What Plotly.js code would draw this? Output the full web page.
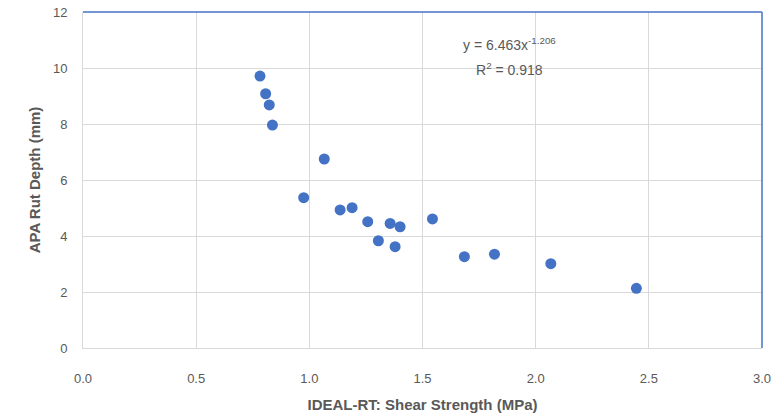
<!DOCTYPE html>
<html>
<head>
<meta charset="utf-8">
<script src="https://cdn.plot.ly/plotly-3.0.1.min.js"></script>
<style>html,body{margin:0;padding:0;background:#fff;}#chart{width:778px;height:414px;}</style>
</head>
<body>
<div id="chart"></div>
<script>
const shearStrength = [0.782, 0.807, 0.823, 0.837, 1.066, 0.975, 1.136, 1.189, 1.258, 1.357, 1.401, 1.305, 1.379, 1.544, 1.685, 1.818, 2.067, 2.445];
const rutDepth      = [9.71, 9.08, 8.68, 7.96, 6.75, 5.37, 4.93, 5.01, 4.51, 4.45, 4.33, 3.83, 3.62, 4.61, 3.26, 3.35, 3.01, 2.13];
const xTicks = [0, 0.5, 1, 1.5, 2, 2.5, 3];
const xTickLabels = ["0.0", "0.5", "1.0", "1.5", "2.0", "2.5", "3.0"];
const yTicks = [0, 2, 4, 6, 8, 10, 12];
const equationText = "y = 6.463x<sup>-1.206</sup>";
const r2Text = "R<sup>2</sup> = 0.918";

const font = {family: "Liberation Sans, Arial, sans-serif", color: "#595959"};
const trace = {
  x: shearStrength, y: rutDepth, type: "scatter", mode: "markers",
  marker: {color: "#4472C4", size: 11}, hoverinfo: "skip"
};
const layout = {
  width: 778, height: 414,
  margin: {l: 83, r: 16, t: 12, b: 66},
  paper_bgcolor: "#fff", plot_bgcolor: "#fff",
  showlegend: false,
  font: font,
  xaxis: {
    range: [0, 3], tickvals: xTicks, ticktext: xTickLabels,
    showgrid: true, gridcolor: "#d9d9d9", gridwidth: 1,
    zeroline: false, showline: true, linecolor: "#d9d9d9",
    ticks: "", ticklabelstandoff: 18,
    tickfont: {size: 13, color: "#595959", family: font.family},
    title: {text: "<b>IDEAL-RT: Shear Strength (MPa)</b>", font: {size: 15, color: "#595959", family: font.family}, standoff: 14}
  },
  yaxis: {
    range: [0, 12], tickvals: yTicks,
    showgrid: true, gridcolor: "#d9d9d9", gridwidth: 1,
    zeroline: false, showline: true, linecolor: "#d9d9d9",
    ticks: "", ticklabelstandoff: 12,
    tickfont: {size: 13, color: "#595959", family: font.family},
    title: {text: "<b>APA Rut Depth (mm)</b>", font: {size: 15, color: "#595959", family: font.family}, standoff: 8}
  },
  shapes: [
    {type: "line", xref: "paper", yref: "paper", x0: 0, x1: 1, y0: 1, y1: 1, line: {color: "#4472C4", width: 1.5}},
    {type: "line", xref: "paper", yref: "paper", x0: 1, x1: 1, y0: 0, y1: 1, line: {color: "#4472C4", width: 1.5}}
  ],
  annotations: [
    {xref: "x", yref: "y", x: 1.885, y: 10.85, text: equationText, showarrow: false,
     font: {size: 14, color: "#595959", family: font.family}},
    {xref: "x", yref: "y", x: 1.885, y: 9.95, text: r2Text, showarrow: false,
     font: {size: 14, color: "#595959", family: font.family}}
  ]
};
Plotly.newPlot("chart", [trace], layout, {staticPlot: true, displayModeBar: false});
</script>
</body>
</html>
